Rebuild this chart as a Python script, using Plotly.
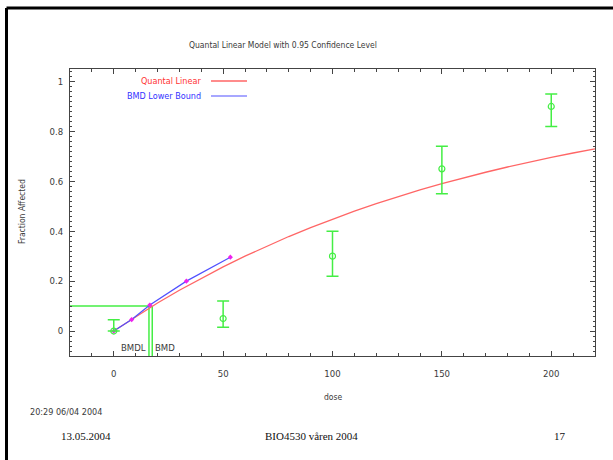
import plotly.graph_objects as go

# Observed dose groups: fraction affected with 95% confidence limits
dose = [0, 50, 100, 150, 200]
frac_affected = [0.0, 0.05, 0.30, 0.65, 0.90]
ci_upper = [0.045, 0.12, 0.40, 0.74, 0.95]
ci_lower = [0.0, 0.015, 0.22, 0.55, 0.82]

# Fitted quantal linear model
model_dose = [0, 10, 20, 30, 40, 50, 60, 70, 80, 90, 100, 110,
              120, 130, 140, 150, 160, 170, 180, 190, 200, 210, 220]
model_resp = [0.0, 0.0578, 0.1122, 0.1635, 0.2118, 0.2573, 0.3002, 0.3406,
              0.3787, 0.4146, 0.4484, 0.4803, 0.5103, 0.5386, 0.5652, 0.5904,
              0.6140, 0.6363, 0.6573, 0.6771, 0.6958, 0.7134, 0.7299]

# Lower confidence bound on the benchmark dose curve
lb_dose = [0, 8.2, 16.5, 33.2, 53.3]
lb_resp = [0.0, 0.046, 0.104, 0.20, 0.296]

bmr = 0.1
bmdl = 16.1
bmd = 17.6

x_range = [-20, 220]
y_range = [-0.1, 1.05]
x_ticks = [0, 50, 100, 150, 200]
y_ticks = [0, 0.2, 0.4, 0.6, 0.8, 1]

W, H = 613, 460
L, R, T, B = 70, 18, 69, 104
PW, PH = W - L - R, H - T - B


def fx(px):
    return (px - L) / PW


def fy(py):
    return (H - B - py) / PH


NARROW = "Liberation Sans Narrow, Arial Narrow, DejaVu Sans Condensed, sans-serif"
SERIF = "Liberation Serif, Times New Roman, serif"
GREEN = "#44ee44"
RED = "#ff6666"
BLUE = "#5050ff"
TXT = "#3a3a3a"

fig = go.Figure()

# BMR reference line and BMDL / BMD drop lines
fig.add_trace(go.Scatter(x=[x_range[0], bmd], y=[bmr, bmr], mode="lines",
                         line=dict(color=GREEN, width=1.5), hoverinfo="skip"))
fig.add_trace(go.Scatter(x=[bmdl, bmdl], y=[y_range[0], bmr], mode="lines",
                         line=dict(color=GREEN, width=1.5), hoverinfo="skip"))
fig.add_trace(go.Scatter(x=[bmd, bmd], y=[y_range[0], bmr], mode="lines",
                         line=dict(color=GREEN, width=1.5), hoverinfo="skip"))

# Model curve
fig.add_trace(go.Scatter(x=model_dose, y=model_resp, mode="lines",
                         line=dict(color=RED, width=1.3)))

# Lower bound line with points
fig.add_trace(go.Scatter(x=lb_dose, y=lb_resp, mode="lines+markers",
                         line=dict(color=BLUE, width=1.2),
                         marker=dict(color="#ee22ee", size=4, symbol="diamond")))

# Observed data with confidence bars
fig.add_trace(go.Scatter(
    x=dose, y=frac_affected, mode="markers",
    marker=dict(symbol="circle-open", size=6, color=GREEN, line=dict(width=1.2)),
    error_y=dict(type="data", symmetric=False,
                 array=[u - f for u, f in zip(ci_upper, frac_affected)],
                 arrayminus=[f - lo for f, lo in zip(frac_affected, ci_lower)],
                 color=GREEN, thickness=1.5, width=6),
))

axis_common = dict(
    showgrid=False, zeroline=False, showline=True, linecolor="#444444",
    linewidth=1, mirror="allticks", ticks="inside", ticklen=5,
    tickcolor="#444444", tickfont=dict(family=NARROW, size=9.5, color=TXT),
)

fig.update_xaxes(range=x_range, tickvals=x_ticks, ticklabelstandoff=9,
                 minor=dict(ticks="inside", dtick=10, ticklen=3, tickcolor="#444444"),
                 **axis_common)
fig.update_yaxes(range=y_range, tickvals=y_ticks, ticktext=[str(v) for v in y_ticks],
                 ticklabelstandoff=4,
                 minor=dict(ticks="inside", dtick=0.02, ticklen=2, tickcolor="#444444"),
                 **axis_common)

annotations = [
    dict(text="Quantal Linear Model with 0.95 Confidence Level", x=fx(283), y=fy(45),
         font=dict(family=NARROW, size=8.5, color=TXT)),
    dict(text="Fraction Affected", x=fx(22), y=fy(212), textangle=-90,
         font=dict(family=NARROW, size=8.5, color=TXT)),
    dict(text="dose", x=fx(333), y=fy(397), font=dict(family=NARROW, size=8.5, color=TXT)),
    dict(text="Quantal Linear", x=fx(203), y=fy(81), xanchor="right",
         font=dict(family=NARROW, size=9, color="#ff3333")),
    dict(text="BMD Lower Bound", x=fx(203), y=fy(96), xanchor="right",
         font=dict(family=NARROW, size=9, color="#3333ff")),
    dict(text="20:29 06/04 2004", x=fx(28), y=fy(412), xanchor="left",
         font=dict(family=NARROW, size=9, color=TXT)),
    dict(text="13.05.2004", x=fx(59), y=fy(436), xanchor="left",
         font=dict(family=SERIF, size=11, color="#111111")),
    dict(text="BIO4530 våren 2004", x=fx(311.5), y=fy(436),
         font=dict(family=SERIF, size=11, color="#111111")),
    dict(text="17", x=fx(559.5), y=fy(436),
         font=dict(family=SERIF, size=11, color="#111111")),
]
for a in annotations:
    a.update(xref="paper", yref="paper", showarrow=False,
             xanchor=a.get("xanchor", "center"), yanchor="middle")

# BMDL / BMD labels next to the drop lines
annotations.append(dict(text="BMDL", x=bmdl, y=-0.065, xref="x", yref="y",
                        xanchor="right", xshift=-1, showarrow=False,
                        font=dict(family=NARROW, size=9.5, color=TXT)))
annotations.append(dict(text="BMD", x=bmd, y=-0.065, xref="x", yref="y",
                        xanchor="left", xshift=1, showarrow=False,
                        font=dict(family=NARROW, size=9.5, color=TXT)))

shapes = [
    # legend line samples
    dict(type="line", xref="paper", yref="paper", x0=fx(211), x1=fx(247),
         y0=fy(81), y1=fy(81), line=dict(color=RED, width=1.3)),
    dict(type="line", xref="paper", yref="paper", x0=fx(211), x1=fx(247),
         y0=fy(96), y1=fy(96), line=dict(color=BLUE, width=1.2)),
    # slide frame
    dict(type="line", xref="paper", yref="paper", x0=fx(6.5), x1=fx(613),
         y0=fy(8), y1=fy(8), line=dict(color="black", width=3)),
    dict(type="line", xref="paper", yref="paper", x0=fx(6.5), x1=fx(6.5),
         y0=fy(8), y1=fy(460), line=dict(color="black", width=3)),
]

fig.update_layout(
    width=W, height=H, margin=dict(l=L, r=R, t=T, b=B),
    paper_bgcolor="white", plot_bgcolor="white", showlegend=False,
    annotations=annotations, shapes=shapes,
)

fig.write_html("out.html")
